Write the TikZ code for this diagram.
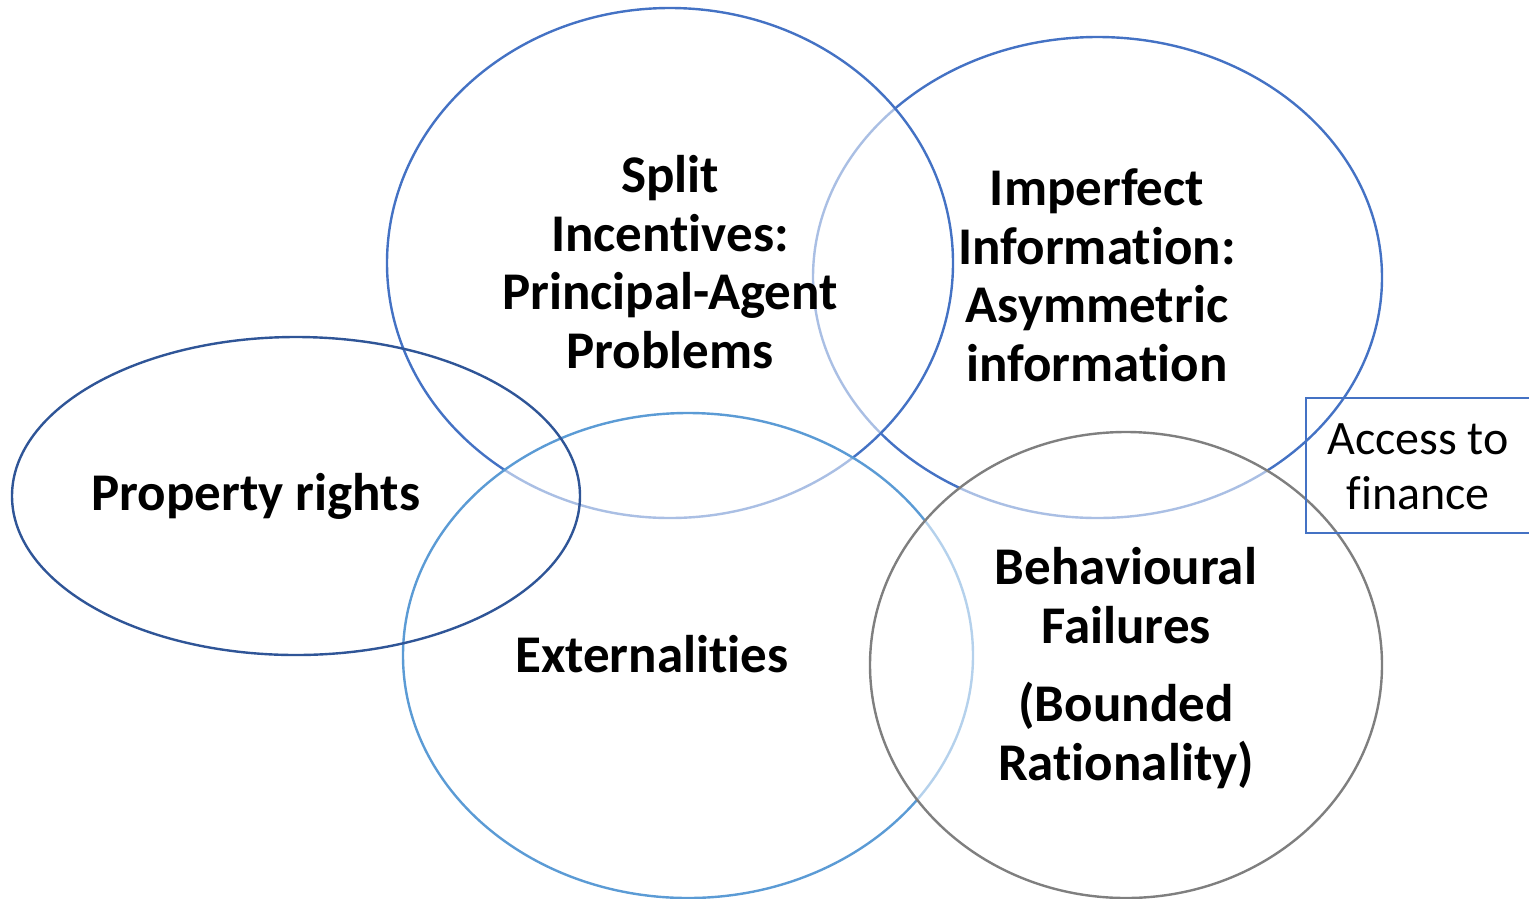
\documentclass[tikz,border=0pt]{standalone}
\usepackage{fontspec}
\setmainfont[RawFeature={-liga;-clig;-calt;-dlig}]{Carlito}
\usetikzlibrary{shapes.geometric}
\definecolor{midblue}{HTML}{4472C4}
\definecolor{darkblue}{HTML}{2F5597}
\definecolor{skyblue}{HTML}{5B9BD5}
\definecolor{greyline}{HTML}{7F7F7F}
\begin{document}
\begin{tikzpicture}[x=1pt,y=-1pt,
  ring/.style={ellipse, draw, line width=2.4pt, inner sep=0pt, outer sep=0pt},
  veil/.style={fill=white, fill opacity=0.55},
  title/.style={font=\fontsize{53}{58.5}\selectfont\bfseries, align=center, anchor=base, inner sep=0pt},
  plain/.style={font=\fontsize{48}{55}\selectfont, align=center, anchor=base, inner sep=0pt}]
\useasboundingbox (0,0) rectangle (1529,898);
\clip (0,0) rectangle (1529,898);
% overlapping rings, later ones softening the outlines beneath them
\node[ring, draw=midblue, minimum width=569pt, minimum height=481pt] (imperfect) at (1097.5,277.5) {};
\node[ring, veil, draw=midblue, minimum width=566pt, minimum height=510pt] (split) at (670,263) {};
\node[ring, veil, draw=skyblue, minimum width=570pt, minimum height=485pt] (extern) at (688,655.5) {};
\node[ring, veil, draw=greyline, minimum width=512pt, minimum height=466pt] (behav) at (1126,665) {};
\node[ring, draw=darkblue, minimum width=568pt, minimum height=318pt] (property) at (296,496) {};
% side box
\draw[midblue, line width=2.4pt] (1306,398) rectangle (1560,533);
% labels (anchored on the baseline of their last line)
\node[title] (splitlbl) at (670,368) {Split\\Incentives:\\Principal-Agent\\Problems};
\node[title] (imperfectlbl) at (1097,381) {Imperfect\\Information:\\Asymmetric\\information};
\node[title] (propertylbl) at (256,510) {Property rights};
\node[title] (externlbl) at (652,672) {Externalities};
\node[title] (behavlbl) at (1126,780) {Behavioural\\Failures\\[20pt](Bounded\\Rationality)};
\node[plain] (financelbl) at (1418,509) {Access to\\finance};
\end{tikzpicture}
\end{document}
